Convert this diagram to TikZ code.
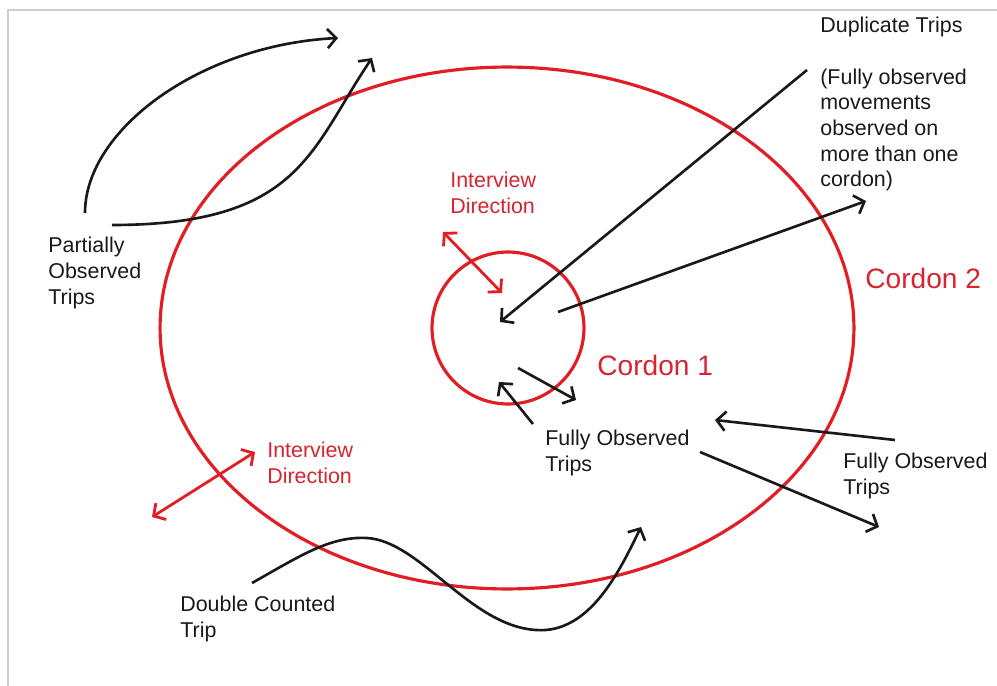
\documentclass[tikz,border=0pt]{standalone}
\usepackage{fontspec}
\setmainfont{Liberation Sans}
\usetikzlibrary{arrows.meta,positioning,shapes.geometric}
\definecolor{cordred}{RGB}{224,30,36}
\definecolor{textred}{RGB}{214,36,48}
\definecolor{framegray}{RGB}{205,205,205}
\definecolor{inkblack}{RGB}{25,25,25}

\begin{document}
\begin{tikzpicture}[x=0.02cm,y=-0.02cm,>={Straight Barb[length=5pt,width=11pt]},
  lbl/.style={anchor=west,inner sep=0pt,align=left,text=inkblack,font=\fontsize{12.2}{14.6}\selectfont},
  redlbl/.style={lbl,text=textred},
  cordlbl/.style={anchor=west,inner sep=0pt,text=textred,font=\fontsize{16}{19}\selectfont},
  trip/.style={->,line width=1.5pt,draw=inkblack},
  intdir/.style={<->,line width=1.6pt,draw=cordred},
  cordon/.style={draw=cordred,line width=1.8pt,inner sep=0pt}]
\useasboundingbox (0,0) rectangle (997,686);
\draw[framegray,line width=1.5pt] (8,686) -- (8,10) -- (997,10);

% the two cordons
\node[cordon,ellipse,minimum width=13.88cm,minimum height=10.44cm] (c2) at (507,328) {};
\node[cordon,circle,minimum size=3.04cm] (c1) at (508,328) {};
\node[cordlbl] (c1lbl) at (597,365) {Cordon 1};
\node[cordlbl] (c2lbl) at (865,278) {Cordon 2};

% labels
\node[redlbl] (idir1) at (450,193) {Interview\\Direction};
\node[redlbl] (idir2) at (267,463) {Interview\\Direction};
\node[lbl] (partial) at (48,273) {Partially\\Observed\\Trips};
\node[lbl] (dupl) at (820,27) {Duplicate Trips};
\node[lbl] (duplnote) at (820,130) {(Fully observed\\movements\\observed on\\more than one\\cordon)};
\node[lbl] (fullin) at (545,453) {Fully Observed\\Trips};
\node[lbl] (fullout) at (843,476) {Fully Observed\\Trips};
\node[lbl] (double) at (180,619) {Double Counted\\Trip};

% trip ends
\coordinate (pa1) at (85,213);  \coordinate (pa2) at (338,38);
\coordinate (pb1) at (112,225); \coordinate (pb2) at (372,58);
\coordinate (du1) at (807,70);  \coordinate (du2) at (500,322);
\coordinate (du3) at (558,312); \coordinate (du4) at (866,201);
\coordinate (fi1) at (518,368); \coordinate (fi2) at (576,400);
\coordinate (fi3) at (533,424); \coordinate (fi4) at (499,382);
\coordinate (fo1) at (895,440); \coordinate (fo2) at (715,420);
\coordinate (fo3) at (700,452); \coordinate (fo4) at (879,527);
\coordinate (dc1) at (252,583); \coordinate (dc2) at (367,538);
\coordinate (dc3) at (536,630); \coordinate (dc4) at (641,527);
\coordinate (ia1) at (443,232); \coordinate (ia2) at (502,293);
\coordinate (ib1) at (152,517); \coordinate (ib2) at (255,452);

% trips
\draw[trip] (pa1) .. controls (85,130) and (200,45) .. (pa2);
\draw[trip] (pb1) .. controls (300,225) and (310,150) .. (pb2);
\draw[trip] (du1) -- (du2);
\draw[trip] (du3) -- (du4);
\draw[trip] (fi1) -- (fi2);
\draw[trip] (fi3) -- (fi4);
\draw[trip] (fo1) -- (fo2);
\draw[trip] (fo3) -- (fo4);
\draw[trip] (dc1) .. controls (300,556) and (330,536) .. (dc2)
  .. controls (420,541) and (470,626) .. (dc3)
  .. controls (590,634) and (620,570) .. (dc4);

% interview direction
\draw[intdir] (ia1) -- (ia2);
\draw[intdir] (ib1) -- (ib2);
\end{tikzpicture}
\end{document}
